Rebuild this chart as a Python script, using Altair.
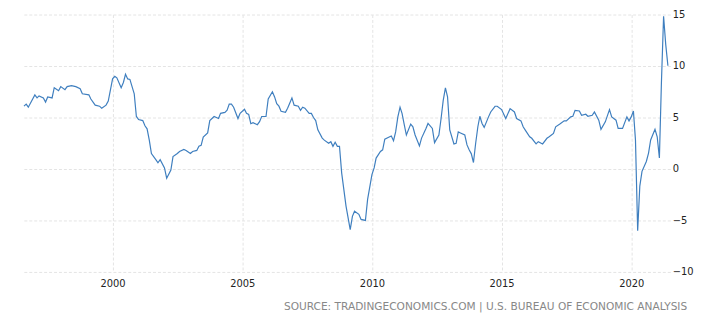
import altair as alt
import pandas as pd

months = [
    "1996-08", "1996-09", "1996-10",
    "1997-01", "1997-02", "1997-03", "1997-05", "1997-06", "1997-07", "1997-09", "1997-10", "1997-12",
    "1998-01", "1998-03", "1998-04", "1998-06", "1998-08", "1998-10", "1998-11",
    "1999-02", "1999-03", "1999-05", "1999-07", "1999-08", "1999-10", "1999-11",
    "2000-01", "2000-02", "2000-03", "2000-05", "2000-06", "2000-07", "2000-08", "2000-09", "2000-11", "2000-12",
    "2001-01", "2001-03", "2001-04", "2001-05", "2001-06", "2001-07", "2001-09", "2001-10", "2001-11",
    "2002-01", "2002-02", "2002-04", "2002-05", "2002-07", "2002-08", "2002-10", "2002-11",
    "2003-01", "2003-02", "2003-04", "2003-05", "2003-06", "2003-07", "2003-09", "2003-10", "2003-11", "2003-12",
    "2004-02", "2004-03", "2004-05", "2004-06", "2004-07", "2004-08", "2004-09", "2004-11", "2004-12",
    "2005-02", "2005-03", "2005-04", "2005-05", "2005-06", "2005-08", "2005-09", "2005-10", "2005-12",
    "2006-01", "2006-03", "2006-04", "2006-05", "2006-06", "2006-07", "2006-09", "2006-10", "2006-12",
    "2007-01", "2007-03", "2007-04", "2007-05", "2007-06", "2007-08", "2007-09", "2007-10", "2007-11", "2007-12",
    "2008-02", "2008-03", "2008-05", "2008-06", "2008-07", "2008-08", "2008-09", "2008-10", "2008-11",
    "2009-01", "2009-03", "2009-04", "2009-05", "2009-07", "2009-08", "2009-10", "2009-11",
    "2010-01", "2010-02", "2010-03", "2010-05", "2010-06", "2010-07", "2010-09", "2010-10", "2010-11", "2010-12",
    "2011-01", "2011-02", "2011-03", "2011-04", "2011-05", "2011-07", "2011-08", "2011-09", "2011-11", "2011-12",
    "2012-02", "2012-03", "2012-05", "2012-06", "2012-08", "2012-09", "2012-10", "2012-11", "2012-12",
    "2013-01", "2013-03", "2013-04", "2013-05", "2013-06", "2013-08", "2013-09", "2013-10", "2013-11", "2013-12",
    "2014-01", "2014-02", "2014-03", "2014-04", "2014-05", "2014-07", "2014-08", "2014-10", "2014-11",
    "2015-01", "2015-03", "2015-05", "2015-07", "2015-08", "2015-10", "2015-11", "2015-12",
    "2016-02", "2016-03", "2016-05", "2016-06", "2016-08", "2016-10", "2016-11",
    "2017-01", "2017-02", "2017-04", "2017-06", "2017-07", "2017-09", "2017-10", "2017-11",
    "2018-01", "2018-02", "2018-04", "2018-05", "2018-07", "2018-08", "2018-10", "2018-11",
    "2019-01", "2019-03", "2019-04", "2019-06", "2019-07", "2019-09", "2019-11", "2019-12",
    "2020-01", "2020-02", "2020-03", "2020-04", "2020-05", "2020-06", "2020-08", "2020-09", "2020-10", "2020-12",
    "2021-01", "2021-02", "2021-03", "2021-04", "2021-05", "2021-06",
]

values = [
    6.1, 6.3, 6.0,
    7.2, 6.9, 7.1, 6.9, 6.5, 7.0, 6.9, 7.9, 7.6,
    8.0, 7.7, 8.0, 8.1, 8.0, 7.8, 7.3,
    7.2, 6.8, 6.2, 6.1, 5.9, 6.2, 6.6,
    8.75, 9.0, 8.85, 7.9, 8.4, 9.2, 8.75, 8.7, 7.3, 5.1,
    4.8, 4.7, 4.2, 3.9, 2.8, 1.5, 0.9, 0.6, 0.9,
    0.1, -0.9, -0.1, 1.2, 1.5, 1.7, 1.9, 1.8,
    1.5, 1.7, 1.8, 2.2, 2.3, 3.1, 3.5, 4.7, 4.9, 5.1,
    4.9, 5.4, 5.5, 5.7, 6.3, 6.3, 6.0, 4.9, 5.4,
    5.8, 5.4, 5.3, 4.4, 4.5, 4.3, 4.6, 5.1, 5.1,
    6.8, 7.5, 7.0, 6.35, 6.1, 5.6, 5.5, 5.9, 6.9,
    6.2, 6.1, 5.7, 6.0, 5.9, 5.4, 5.4, 5.0, 4.7, 3.8,
    3.0, 2.8, 2.5, 2.65, 2.2, 2.6, 2.2, 2.2, -0.4,
    -3.6, -5.9, -4.6, -4.1, -4.4, -4.9, -5.0, -2.95,
    -0.55, 0.1, 1.06, 1.7, 1.86, 2.9, 3.1, 3.2, 2.75, 3.6,
    5.06, 6.0, 5.4, 4.3, 3.3, 4.36, 4.1, 3.3, 2.24, 3.0,
    3.94, 4.42, 3.94, 2.56, 3.3, 4.9, 6.66, 7.88, 7.0,
    3.8, 2.43, 2.5, 3.6, 3.5, 3.3, 2.34, 1.86, 1.47, 0.63,
    2.5, 4.1, 5.12, 4.42, 4.04, 5.06, 5.54, 6.09, 6.09,
    5.77, 4.9, 5.86, 5.54, 4.9, 4.67, 4.1, 3.78,
    3.13, 2.98, 2.43, 2.65, 2.43, 2.98, 3.13,
    3.46, 4.1, 4.36, 4.67, 4.67, 5.06, 5.12, 5.7,
    5.63, 5.22, 5.32, 5.12, 5.22, 5.54, 4.74, 3.85,
    4.58, 5.77, 5.06, 4.74, 3.94, 3.94, 5.06, 4.67,
    5.06, 5.63, 2.82, -6.0, -1.67, -0.23, 0.73, 1.54, 2.82, 3.85,
    3.13, 1.06, 8.27, 14.84, 12.1, 10.03,
]

x_tick_years = ["2000-01-01", "2005-01-01", "2010-01-01", "2015-01-01", "2020-01-01"]
y_ticks = [-10, -5, 0, 5, 10, 15]
source_text = "SOURCE: TRADINGECONOMICS.COM | U.S. BUREAU OF ECONOMIC ANALYSIS"

df = pd.DataFrame({"date": pd.to_datetime(months), "value": values})

FONT = "DejaVu Sans"

chart = (
    alt.Chart(df)
    .mark_line(color="#3f7fbf", strokeWidth=1.2)
    .encode(
        x=alt.X(
            "date:T",
            scale=alt.Scale(domain=["1996-07-16", "2021-07-04"]),
            axis=alt.Axis(
                title=None,
                values=x_tick_years,
                format="%Y",
                grid=True,
                gridColor="#e4e4e4",
                gridDash=[3, 2],
                domain=False,
                ticks=False,
                labelPadding=7,
                labelFont=FONT,
                labelFontSize=10,
                labelColor="#222",
            ),
        ),
        y=alt.Y(
            "value:Q",
            scale=alt.Scale(domain=[-10, 15], nice=False, zero=False),
            axis=alt.Axis(
                title=None,
                orient="right",
                values=y_ticks,
                grid=True,
                gridColor="#e4e4e4",
                gridDash=[3, 2],
                domain=False,
                ticks=False,
                labelPadding=2,
                labelAlign="left",
                labelFont=FONT,
                labelFontSize=10,
                labelColor="#222",
            ),
        ),
    )
    .properties(
        width=654,
        height=260,
        padding={"left": 15, "top": 5, "right": 26, "bottom": 52},
        autosize=alt.AutoSizeParams(type="none"),
        title=alt.TitleParams(
            text=source_text,
            orient="bottom",
            anchor="end",
            font=FONT,
            fontSize=10.7,
            fontWeight="normal",
            color="#888888",
            offset=13,
            dx=-6,
        ),
    )
    .configure_view(stroke=None)
)

chart.save("out.html", embed_options={"renderer": "svg", "actions": False})
